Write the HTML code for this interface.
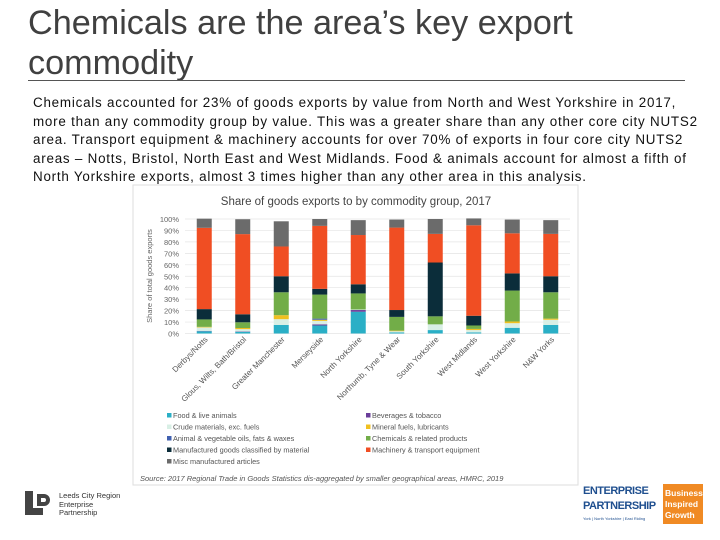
<!DOCTYPE html>
<html><head><meta charset="utf-8"><style>
body{margin:0;width:720px;height:540px;background:#fff;font-family:"Liberation Sans",sans-serif;position:relative;overflow:hidden}
.abs{position:absolute}
</style></head><body>
<div class="abs" style="left:28px;top:3px;font-size:34.2px;line-height:40px;color:#404040">Chemicals are the area’s key export<br>commodity</div>
<div class="abs" style="left:28px;top:80px;width:657px;height:1px;background:#555"></div>
<div class="abs" style="left:33px;top:94px;white-space:nowrap;font-size:13.4px;letter-spacing:0.78px;line-height:18.5px;color:#111">Chemicals accounted for 23% of goods exports by value from North and West Yorkshire in 2017,<br>more than any commodity group by value. This was a greater share than any other core city NUTS2<br>area. Transport equipment &amp; machinery accounts for over 70% of exports in four core city NUTS2<br>areas – Notts, Bristol, North East and West Midlands. Food &amp; animals account for almost a fifth of<br>North Yorkshire exports, almost 3 times higher than any other area in this analysis.</div>
<svg class="abs" style="left:0;top:0" width="720" height="540" id="svg"></svg>
<div class="abs" style="left:25px;top:491px;width:30px;height:24px">
<div style="position:absolute;left:0;top:0;width:8px;height:24px;background:#444"></div>
<div style="position:absolute;left:0;top:17px;width:18px;height:7px;background:#444"></div>
<div style="position:absolute;left:12px;top:3px;width:13px;height:12px;border:4px solid #444;border-radius:0 8px 8px 0;box-sizing:border-box"></div>
</div>
<div class="abs" style="left:59px;top:492px;font-size:7.5px;line-height:8.5px;color:#333">Leeds City Region<br>Enterprise<br>Partnership</div>
<div class="abs" style="left:583px;top:484px;width:120px;height:40px">
<div style="position:absolute;left:0;top:0;font:bold 11px 'Liberation Sans Narrow','Liberation Sans',sans-serif;line-height:15px;color:#1f4f8f;letter-spacing:-0.5px">ENTERPRISE<br>PARTNERSHIP</div>
<div style="position:absolute;left:0;top:32px;font-size:4px;color:#1f4f8f">York | North Yorkshire | East Riding</div>
<div style="position:absolute;left:80px;top:0;width:40px;height:40px;background:#f08a24;color:#fff;font:bold 8.5px 'Liberation Sans Narrow',sans-serif;line-height:11px;padding:4px 2px;box-sizing:border-box">Business<br>Inspired<br>Growth</div>
</div>
<script>
const categories=["Derbys/Notts","Glous, Wilts, Bath/Bristol","Greater Manchester","Merseyside","North Yorkshire","Northumb, Tyne & Wear","South Yorkshire","West Midlands","West Yorkshire","N&W Yorks"];
const seriesNames=["Food & live animals","Beverages & tobacco","Crude materials, exc. fuels","Mineral fuels, lubricants","Animal & vegetable oils, fats & waxes","Chemicals & related products","Manufactured goods classified by material","Machinery & transport equipment","Misc manufactured articles"];
const colors=["#2aafc6","#6a3d9a","#d8efe5","#f0c020","#4060b0","#72ad48","#0b2d3a","#f04e23","#6b6b6b"];
const food=[2,1.5,7.5,7,19,1,3,1,5,7.5];
const bev=[0.3,0.3,0,1,1.5,0,0,0,0,0];
const crude=[3,2,5,3,0.5,1,5,2,4,4.5];
const mineral=[0.5,1,3.5,1,0,0.5,0,1,1.5,1];
const animal=[0,0,0,1,0,0,0,0,0,0];
const chem=[6.5,5,20,21,14,12,7,3,27,23];
const manuf=[9,7,14,5,8,6,47,8.5,15,14];
const mach=[71,70,26,55,43,72,25,79,35,37];
const misc=[8,13,22,6,13,7,13,6,12,12];
const series=[food,bev,crude,mineral,animal,chem,manuf,mach,misc];
const yTicks=[0,10,20,30,40,50,60,70,80,90,100];
const svg=document.getElementById('svg');const NS='http://www.w3.org/2000/svg';
function mk(t,a,txt){const e=document.createElementNS(NS,t);for(const k in a)e.setAttribute(k,a[k]);if(txt!=null)e.textContent=txt;svg.appendChild(e);return e;}
const y0=333.5,y1=219,x0=185,x1=570;
const y=v=>y0-(y0-y1)*v/100;
const bw=(x1-x0)/categories.length;
const xc=i=>x0+bw*(i+0.5);
let e=mk('rect',{x:133,y:185,width:445,height:300,fill:'#fff',stroke:'#ddd'});


e=mk('text',{x:356,y:205,'text-anchor':'middle','font-size':11.5,fill:'#444'},'Share of goods exports to by commodity group, 2017');


yTicks.forEach(t=>{
 e=mk('line',{x1:x0,x2:x1,y1:y(t),y2:y(t),stroke:'#e4e4e4','stroke-width':0.7});
 
 
 e=mk('text',{x:179,y:y(t)+3,'text-anchor':'end','font-size':7.5,fill:'#666'},t+'%');
 
 
});
e=mk('text',{transform:'translate(152,276) rotate(-90)','text-anchor':'middle','font-size':7.5,fill:'#666'},'Share of total goods exports');


categories.forEach((c,i)=>{
 let acc=0;
 series.forEach((s,j)=>{
  const v=s[i];if(v<=0)return;
  e=mk('rect',{x:xc(i)-7.5,y:y(acc+v),width:15,height:y(acc)-y(acc+v),fill:colors[j]});
  
  
  acc+=v;
 });
 e=mk('text',{transform:`translate(${xc(i)+4},${340}) rotate(-45)`,'text-anchor':'end','font-size':8,fill:'#555'},c);
 
 
});
seriesNames.forEach((n,j)=>{
 const col=j%2,row=Math.floor(j/2);
 const lx=col?366:167,ly=418+row*11.5;
 e=mk('rect',{x:lx,y:ly-5,width:4.5,height:4.5,fill:colors[j]});
 
 
 e=mk('text',{x:lx+6,y:ly,'font-size':7.3,fill:'#555'},n);
 
 
});
e=mk('text',{x:140,y:481,'font-size':7.5,'font-style':'italic',fill:'#555'},'Source: 2017 Regional Trade in Goods Statistics dis-aggregated by smaller geographical areas, HMRC, 2019');


</script>
</body></html>
